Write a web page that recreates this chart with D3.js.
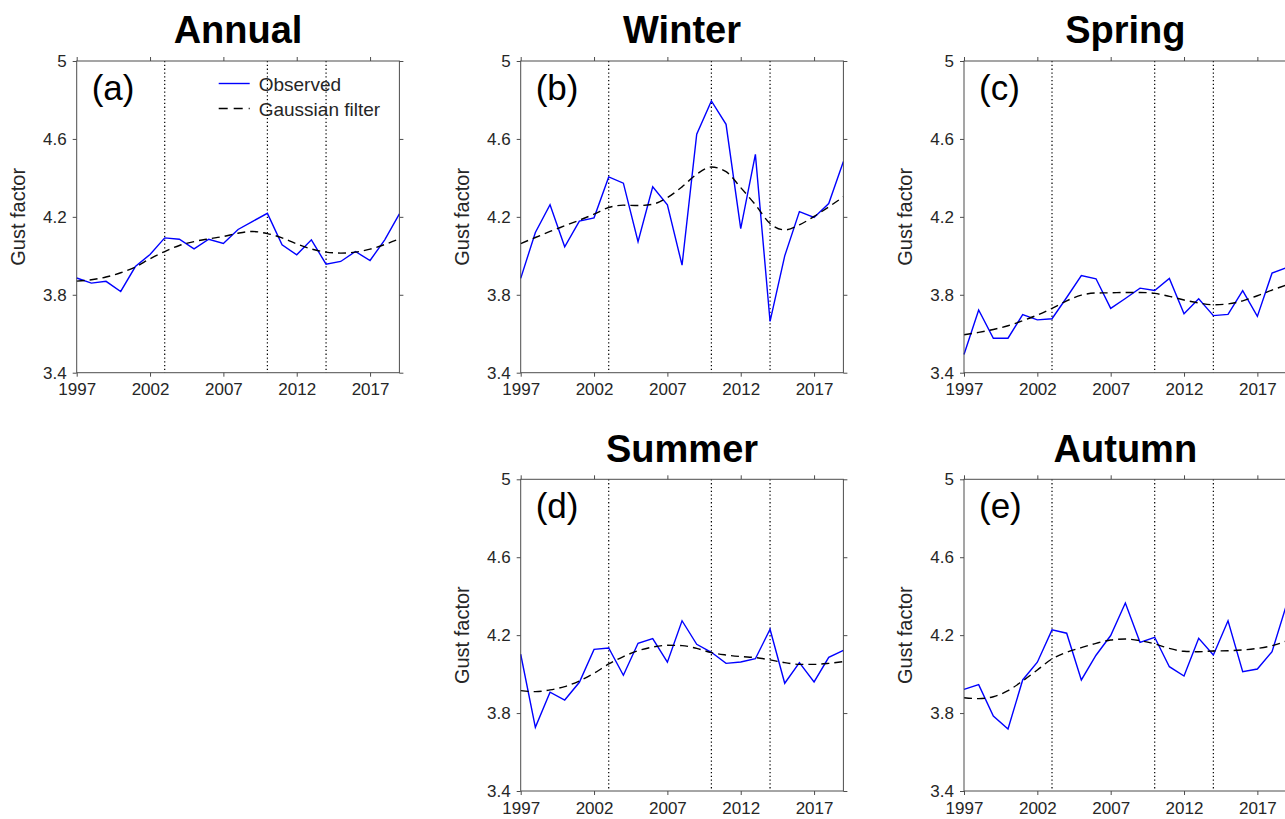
<!DOCTYPE html>
<html>
<head>
<meta charset="utf-8">
<script src="https://cdn.jsdelivr.net/npm/d3@7"></script>
<style>
  html, body { margin: 0; padding: 0; background: #fff; }
  svg { display: block; font-family: "Liberation Sans", Arial, Helvetica, sans-serif; }
</style>
</head>
<body>
<svg id="chart" width="1285" height="819"></svg>
<script>
// Years of record
const years = [1997, 1998, 1999, 2000, 2001, 2002, 2003, 2004, 2005, 2006, 2007, 2008,
               2009, 2010, 2011, 2012, 2013, 2014, 2015, 2016, 2017, 2018, 2019];

// Gust factor series (observed and Gaussian-filtered) per season
const annualObs  = [3.886, 3.860, 3.869, 3.817, 3.945, 4.007, 4.092, 4.085, 4.036, 4.085, 4.063, 4.135,
                    4.177, 4.218, 4.056, 4.005, 4.082, 3.957, 3.971, 4.022, 3.976, 4.082, 4.215];
const annualFilt = [3.870, 3.877, 3.891, 3.913, 3.942, 3.985, 4.022, 4.053, 4.073, 4.087, 4.099, 4.116,
                    4.125, 4.114, 4.092, 4.061, 4.035, 4.019, 4.014, 4.019, 4.034, 4.058, 4.087];

const winterObs  = [3.884, 4.120, 4.262, 4.046, 4.178, 4.195, 4.405, 4.373, 4.072, 4.354, 4.262, 3.952,
                    4.624, 4.795, 4.675, 4.140, 4.521, 3.663, 4.000, 4.227, 4.197, 4.268, 4.484];
const winterFilt = [4.063, 4.094, 4.125, 4.154, 4.183, 4.214, 4.248, 4.260, 4.258, 4.265, 4.299, 4.354,
                    4.419, 4.456, 4.432, 4.350, 4.262, 4.166, 4.133, 4.159, 4.202, 4.251, 4.303];

const springObs  = [3.493, 3.722, 3.577, 3.577, 3.698, 3.671, 3.677, 3.786, 3.899, 3.882, 3.730, 3.781,
                    3.834, 3.822, 3.884, 3.703, 3.780, 3.693, 3.699, 3.821, 3.689, 3.911, 3.940];
const springFilt = [3.595, 3.607, 3.622, 3.641, 3.667, 3.696, 3.730, 3.769, 3.798, 3.809, 3.810, 3.812,
                    3.812, 3.807, 3.792, 3.773, 3.758, 3.749, 3.753, 3.769, 3.795, 3.824, 3.851];

const summerObs  = [4.102, 3.727, 3.907, 3.867, 3.958, 4.127, 4.134, 3.994, 4.158, 4.182, 4.061, 4.274,
                    4.153, 4.112, 4.055, 4.062, 4.079, 4.230, 3.953, 4.059, 3.960, 4.086, 4.122];
const summerFilt = [3.915, 3.910, 3.919, 3.936, 3.965, 4.004, 4.052, 4.090, 4.120, 4.139, 4.148, 4.146,
                    4.132, 4.110, 4.098, 4.090, 4.085, 4.073, 4.059, 4.050, 4.050, 4.055, 4.064];

const autumnObs  = [3.922, 3.946, 3.785, 3.718, 3.970, 4.061, 4.227, 4.210, 3.970, 4.097, 4.198, 4.365,
                    4.163, 4.189, 4.038, 3.990, 4.184, 4.098, 4.274, 4.013, 4.026, 4.115, 4.360];
const autumnFilt = [3.879, 3.874, 3.884, 3.915, 3.965, 4.021, 4.078, 4.112, 4.136, 4.158, 4.175, 4.180,
                    4.172, 4.155, 4.132, 4.117, 4.115, 4.119, 4.120, 4.124, 4.132, 4.146, 4.170];

// Change-point years marked with dotted verticals
const breakYears = [2003, 2010, 2014];

// Axis ticks
const xTicks = [1997, 2002, 2007, 2012, 2017];
const yTicks = [3.4, 3.8, 4.2, 4.6, 5];

const panelTitles = ["Annual", "Winter", "Spring", "Summer", "Autumn"];
const panelTags   = ["(a)", "(b)", "(c)", "(d)", "(e)"];
const observedSeries = [annualObs, winterObs, springObs, summerObs, autumnObs];
const filteredSeries = [annualFilt, winterFilt, springFilt, summerFilt, autumnFilt];
const legendLabels = ["Observed", "Gaussian filter"];

// Layout: grid slot (column, row) for each panel
const slots = [[0, 0], [1, 0], [2, 0], [1, 1], [2, 1]];
const colLeft = [76.7, 520.7, 964.0];
const rowTop = [61.0, 479.3];
const panelW = 322.7;
const panelH = 311.7;

const axisGrey = "#4d4d4d";
const textDark = "#262626";

const svg = d3.select("#chart");
svg.append("rect").attr("width", 1285).attr("height", 819).attr("fill", "#fff");

panelTitles.forEach((title, i) => {
  const [c, r] = slots[i];
  const g = svg.append("g").attr("transform", `translate(${colLeft[c]},${rowTop[r]})`);

  const x = d3.scaleLinear().domain([years[0], years[years.length - 1]]).range([0, panelW]);
  const y = d3.scaleLinear().domain([3.4, 5]).range([panelH, 0]);

  // Axes with outward ticks on all four sides
  const styleAxis = sel => {
    sel.select(".domain").remove();
    sel.selectAll(".tick line").attr("stroke", axisGrey).attr("stroke-width", 1);
    sel.selectAll(".tick text")
      .attr("fill", textDark)
      .style("font-size", "17px")
      .style("font-family", '"Liberation Sans", Arial, sans-serif');
  };

  g.append("g").attr("transform", `translate(0,${panelH})`)
    .call(d3.axisBottom(x).tickValues(xTicks).tickFormat(d3.format("d")).tickSize(4).tickPadding(6.5))
    .call(styleAxis);
  g.append("g")
    .call(d3.axisTop(x).tickValues(xTicks).tickFormat("").tickSize(4))
    .call(styleAxis);
  g.append("g")
    .call(d3.axisLeft(y).tickValues(yTicks).tickFormat(d3.format("~g")).tickSize(4).tickPadding(6))
    .call(styleAxis);
  g.append("g").attr("transform", `translate(${panelW},0)`)
    .call(d3.axisRight(y).tickValues(yTicks).tickFormat("").tickSize(4))
    .call(styleAxis);

  // Dotted change-point markers
  g.selectAll(".brk").data(breakYears).enter().append("line")
    .attr("x1", d => x(d)).attr("x2", d => x(d))
    .attr("y1", 0).attr("y2", panelH)
    .attr("stroke", "#000").attr("stroke-width", 1.2)
    .attr("stroke-dasharray", "1.3,2.5");

  const line = d3.line().x((d, k) => x(years[k])).y(d => y(d));

  // Observed series
  g.append("path").datum(observedSeries[i])
    .attr("d", line).attr("fill", "none")
    .attr("stroke", "#0000ff").attr("stroke-width", 1.4)
    .attr("stroke-linejoin", "miter");

  // Gaussian-filtered series
  g.append("path").datum(filteredSeries[i])
    .attr("d", line.curve(d3.curveMonotoneX)).attr("fill", "none")
    .attr("stroke", "#000").attr("stroke-width", 1.4)
    .attr("stroke-dasharray", "8,5");

  // Frame
  g.append("rect").attr("width", panelW).attr("height", panelH)
    .attr("fill", "none").attr("stroke", axisGrey).attr("stroke-width", 1);

  // Title
  g.append("text").attr("x", panelW / 2).attr("y", -17.7)
    .attr("text-anchor", "middle")
    .style("font-size", "38px").style("font-weight", "bold")
    .attr("fill", "#000").text(title);

  // Panel tag
  g.append("text").attr("x", 15).attr("y", 38.5)
    .style("font-size", "35px").attr("fill", "#000").text(panelTags[i]);

  // Y-axis label
  g.append("text")
    .attr("transform", `translate(-52,${panelH / 2}) rotate(-90)`)
    .attr("text-anchor", "middle")
    .style("font-size", "20px").attr("fill", textDark).text("Gust factor");

  // Legend in the first panel only
  if (i === 0) {
    const lg = g.append("g").attr("transform", "translate(142,22.5)");
    lg.append("line").attr("x1", 0).attr("x2", 31).attr("y1", 0).attr("y2", 0)
      .attr("stroke", "#0000ff").attr("stroke-width", 1.4);
    lg.append("line").attr("x1", 0).attr("x2", 31).attr("y1", 25).attr("y2", 25)
      .attr("stroke", "#000").attr("stroke-width", 1.4).attr("stroke-dasharray", "9,6");
    lg.selectAll(".lt").data(legendLabels).enter().append("text")
      .attr("x", 40).attr("y", (d, k) => k * 25 + 7)
      .style("font-size", "19px").attr("fill", textDark).text(d => d);
  }
});
</script>
</body>
</html>
